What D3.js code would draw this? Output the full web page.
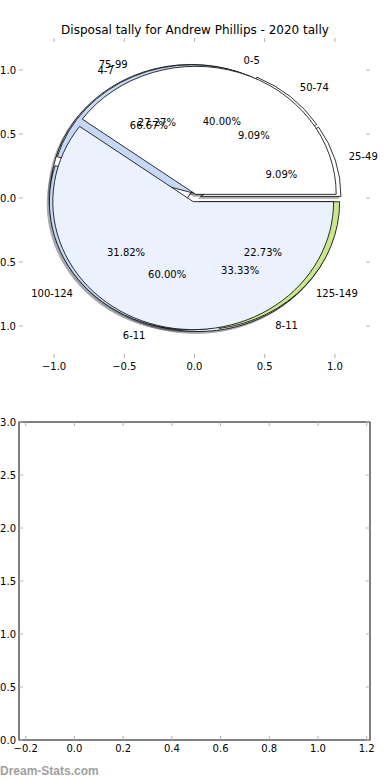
<!DOCTYPE html>
<html>
<head>
<meta charset="utf-8">
<script src="https://cdn.jsdelivr.net/npm/d3@7"></script>
<style>
  body { margin: 0; background: #fff; }
  svg { display: block; font-family: "DejaVu Sans", sans-serif; }
</style>
</head>
<body>
<div id="chart"></div>
<script>
// three pies drawn on top of each other, same centre
var pieC_labels = ["25-49", "50-74", "75-99", "100-124", "125-149"];
var pieC_values = [2, 2, 6, 7, 5];
var pieB_labels = ["4-7", "8-11"];
var pieB_values = [2, 1];
var pieA_labels = ["0-5", "6-11"];
var pieA_values = [2, 3];

var pieC_colors = ["#ffffff", "#ffffff", "#c6d8f8", "#c6d8f8", "#cbe78c"];
var pieB_colors = ["#ffffff", "#ebf1fd"];
var pieA_colors = ["#ffffff", "#ebf1fd"];

var pieTicks = [-1.0, -0.5, 0.0, 0.5, 1.0];
var lowerXTicks = [-0.2, 0.0, 0.2, 0.4, 0.6, 0.8, 1.0, 1.2];
var lowerYTicks = [0.0, 0.5, 1.0, 1.5, 2.0, 2.5, 3.0];

var W = 390, H = 780;
var svg = d3.select("#chart").append("svg")
    .attr("width", W).attr("height", H);

svg.append("text")
    .attr("x", 195).attr("y", 34)
    .attr("text-anchor", "middle")
    .attr("font-size", 12)
    .text("Disposal tally for Andrew Phillips - 2020 tally");

/*----- TOP AXES (pie) -----*/
var pieBox = {left: 19, right: 370, top: 38, bottom: 358};
var x = d3.scaleLinear().domain([-1.25, 1.25]).range([pieBox.left, pieBox.right]);
var y = d3.scaleLinear().domain([-1.25, 1.25]).range([pieBox.bottom, pieBox.top]);
var kx = x(1) - x(0), ky = y(0) - y(1);

var pie = d3.pie().sort(null).value(function(d) { return d; })
    .startAngle(Math.PI / 2).endAngle(Math.PI / 2 - 2 * Math.PI);
var arc = d3.arc().innerRadius(0).outerRadius(1);

var pies = [
    {labels: pieB_labels, values: pieB_values, colors: pieB_colors, explode: 0.05},
    {labels: pieC_labels, values: pieC_values, colors: pieC_colors, explode: 0.045},
    {labels: pieA_labels, values: pieA_values, colors: pieA_colors, explode: 0.03}
];

var shadowG = svg.append("g");
var wedgeG = svg.append("g");
var textG = svg.append("g").attr("font-size", 10);

function darker(c) {
    var r = d3.rgb(c);
    return d3.rgb(r.r * 0.3, r.g * 0.3, r.b * 0.3).toString();
}

pies.forEach(function(p) {
    var arcs = pie(p.values);
    var total = d3.sum(p.values);
    arcs.forEach(function(a, i) {
        var mid = (a.startAngle + a.endAngle) / 2;
        var ux = Math.sin(mid), uy = Math.cos(mid);
        var cx = p.explode * ux, cy = p.explode * uy;

        shadowG.append("path")
            .attr("d", arc(a))
            .attr("transform", "translate(" + x(cx - 0.015) + "," + y(cy - 0.015) + ") scale(" + kx + "," + ky + ")")
            .attr("fill", darker(p.colors[i]))
            .attr("stroke", darker(p.colors[i]))
            .attr("vector-effect", "non-scaling-stroke")
            .attr("opacity", 0.45);

        wedgeG.append("path")
            .attr("d", arc(a))
            .attr("transform", "translate(" + x(cx) + "," + y(cy) + ") scale(" + kx + "," + ky + ")")
            .attr("fill", p.colors[i])
            .attr("stroke", "#000")
            .attr("stroke-width", 0.8)
            .attr("vector-effect", "non-scaling-stroke");

        var lx = 1.1 * ux + cx, ly = 1.1 * uy + cy;
        textG.append("text")
            .attr("x", x(lx)).attr("y", y(ly))
            .attr("text-anchor", lx > 0 ? "start" : "end")
            .attr("dominant-baseline", "central")
            .text(p.labels[i]);

        textG.append("text")
            .attr("x", x(0.6 * ux + cx)).attr("y", y(0.6 * uy + cy))
            .attr("text-anchor", "middle")
            .attr("dominant-baseline", "central")
            .text((p.values[i] / total * 100).toFixed(2) + "%");
    });
});

var tickCol = "#b0b0b0";
function drawTicks(g, xs, ys, xt, yt, box) {
    xt.forEach(function(v) {
        g.append("line").attr("x1", xs(v)).attr("x2", xs(v))
            .attr("y1", box.bottom).attr("y2", box.bottom - 4).attr("stroke", tickCol);
        g.append("line").attr("x1", xs(v)).attr("x2", xs(v))
            .attr("y1", box.top).attr("y2", box.top + 4).attr("stroke", tickCol);
        g.append("text").attr("x", xs(v)).attr("y", box.bottom + 8)
            .attr("text-anchor", "middle").attr("dominant-baseline", "central")
            .attr("font-size", 10)
            .text(d3.format(".1f")(v).replace("-", "\u2212"));
    });
    yt.forEach(function(v) {
        g.append("line").attr("x1", box.left).attr("x2", box.left + 4)
            .attr("y1", ys(v)).attr("y2", ys(v)).attr("stroke", tickCol);
        g.append("line").attr("x1", box.right).attr("x2", box.right - 4)
            .attr("y1", ys(v)).attr("y2", ys(v)).attr("stroke", tickCol);
        g.append("text").attr("x", box.left - 3).attr("y", ys(v))
            .attr("text-anchor", "end").attr("dominant-baseline", "central")
            .attr("font-size", 10)
            .text(d3.format(".1f")(v).replace("-", "\u2212"));
    });
}
drawTicks(svg.append("g"), x, y, pieTicks, pieTicks, pieBox);

/*----- BOTTOM AXES (empty) -----*/
var bot = {left: 19, right: 370, top: 422, bottom: 740};
var x2 = d3.scaleLinear().domain([-0.2275, 1.2136]).range([bot.left, bot.right]);
var y2 = d3.scaleLinear().domain([0, 3]).range([bot.bottom, bot.top]);
var g2 = svg.append("g");
g2.append("rect")
    .attr("x", bot.left).attr("y", bot.top)
    .attr("width", bot.right - bot.left).attr("height", bot.bottom - bot.top)
    .attr("fill", "none").attr("stroke", "#000");
drawTicks(g2, x2, y2, lowerXTicks, lowerYTicks, bot);

svg.append("text")
    .attr("x", 0).attr("y", 775)
    .attr("font-family", "Liberation Sans, Arial, sans-serif")
    .attr("font-weight", "bold")
    .attr("font-size", 12)
    .attr("fill", "#a0a0a0")
    .text("Dream-Stats.com");
</script>
</body>
</html>
